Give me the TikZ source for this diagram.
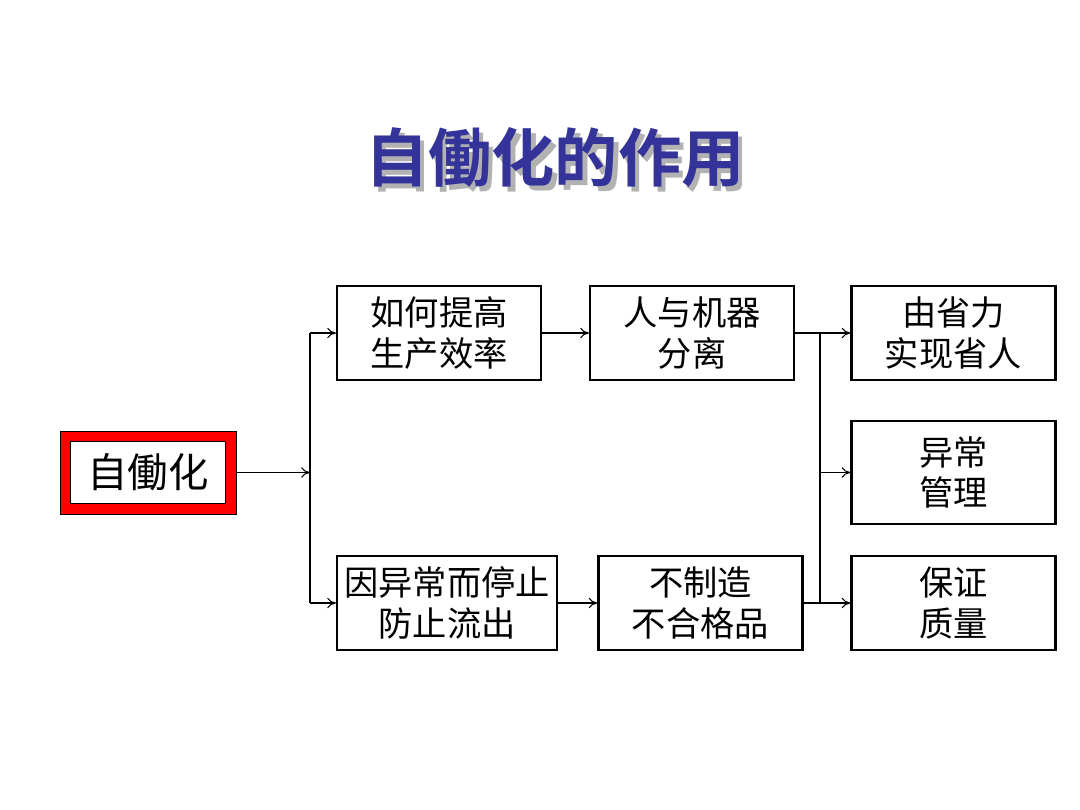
\documentclass[tikz,border=0pt]{standalone}
\usepackage{fontspec}
\setmainfont{Noto Sans CJK SC}
\newfontfamily\cjkb{Noto Sans CJK SC Bold}
\usetikzlibrary{arrows.meta}
\definecolor{tblue}{HTML}{333399}
\begin{document}
\begin{tikzpicture}[x=0.02cm,y=-0.02cm,
  bx/.style={draw,line width=1.2pt,minimum width=4.08cm,minimum height=1.88cm,align=center,font=\fontsize{19.5pt}{23pt}\selectfont,inner sep=0pt},
  ar/.style={-{To[length=5pt,width=6pt]},line width=0.6pt},
  ln/.style={line width=0.6pt}]
\useasboundingbox (0,0) rectangle (1080,810);
\node (t) [text=tblue,font=\cjkb\fontsize{36pt}{40pt}\selectfont] at (555,160) {\makebox[0pt][l]{\hspace{2.5pt}\raisebox{-2.5pt}{\textcolor{gray!60}{自働化的作用}}}自働化的作用};
\node (z) [draw=black,fill=red,minimum width=3.52cm,minimum height=1.66cm] at (148,472.5) {};
\node (zi) [draw=black,line width=1pt,fill=white,minimum width=3.1cm,minimum height=1.24cm,font=\fontsize{23pt}{26pt}\selectfont,inner sep=0pt] at (148,472.5) {自働化};
\node (a) [bx] at (439,333) {如何提高\\生产效率};
\node (b) [bx] at (692,333) {人与机器\\分离};
\node (c) [bx] at (953.5,333) {由省力\\实现省人};
\node (d) [bx,minimum height=2.06cm] at (953.5,472.5) {异常\\管理};
\node (e) [bx] at (953.5,603) {保证\\质量};
\node (f) [bx,minimum width=4.4cm] at (447,603) {因异常而停止\\防止流出};
\node (g) [bx] at (700.5,603) {不制造\\不合格品};
\coordinate (j1) at (310,472.5);
\coordinate (j1t) at (310,333);
\coordinate (j1b) at (310,603);
\coordinate (j2t) at (820,333);
\coordinate (j2b) at (820,603);
\coordinate (j2m) at (820,472.5);
\draw[ar] (z.east) -- (j1);
\draw[ln] (j1t) -- (j1b);
\draw[ar] (j1t) -- (a.west);
\draw[ar] (j1b) -- (f.west);
\draw[ar] (a.east) -- (b.west);
\draw[ar] (f.east) -- (g.west);
\draw[ln] (b.east) -- (j2t);
\draw[ln] (g.east) -- (j2b);
\draw[ln] (j2t) -- (j2b);
\draw[ar] (j2t) -- (c.west);
\draw[ar] (j2m) -- (d.west);
\draw[ar] (j2b) -- (e.west);
\end{tikzpicture}
\end{document}
